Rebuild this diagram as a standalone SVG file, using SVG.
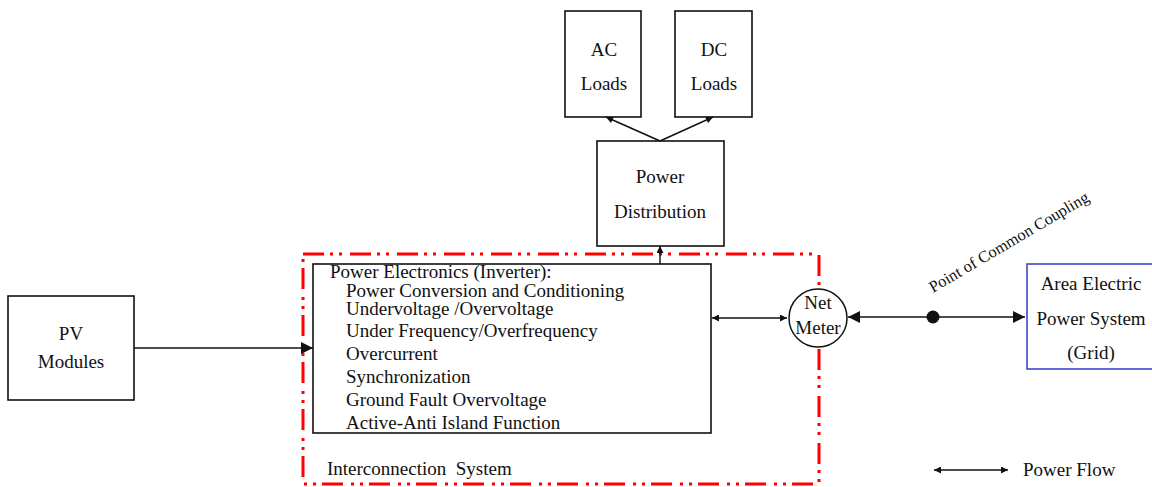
<svg xmlns="http://www.w3.org/2000/svg" width="1152" height="487" viewBox="0 0 1152 487">
  <style>
    text { font-family: "Liberation Serif", "Times New Roman", serif; font-size: 19px; fill: #111; }
    .c { text-anchor: middle; }
    .pcc { font-size: 16.4px; }
    .box { fill: #fff; stroke: #111; stroke-width: 1.6; }
    .ln { fill: none; stroke: #111; stroke-width: 1.4; }
    .boundary { fill: none; stroke: #f00; stroke-width: 3; stroke-dasharray: 21 6 3 6 3 8; }
  </style>
  <defs>
    <marker id="ah" viewBox="0 0 10 10" refX="10" refY="5" markerWidth="9" markerHeight="7" markerUnits="userSpaceOnUse" orient="auto-start-reverse">
      <path d="M0,0 L10,5 L0,10 z" fill="#111"/>
    </marker>
    <marker id="ahBig" viewBox="0 0 10 10" refX="10" refY="5" markerWidth="13" markerHeight="12" markerUnits="userSpaceOnUse" orient="auto-start-reverse">
      <path d="M0,0 L10,5 L0,10 z" fill="#111"/>
    </marker>
  </defs>

  <!-- interconnection boundary -->
  <rect id="interconnection" class="boundary" x="303" y="254" width="516" height="230"/>
  <text x="327" y="475" style="white-space: pre">Interconnection  System</text>

  <g id="pv-modules">
    <rect class="box" x="8" y="296" width="126" height="104"/>
    <text class="c" x="71" y="340">PV</text>
    <text class="c" x="71" y="368">Modules</text>
  </g>

  <g id="inverter">
    <rect class="box" x="313" y="264" width="398" height="169" stroke="#333"/>
    <text x="330" y="278">Power Electronics (Inverter):</text>
    <text x="346" y="297">Power Conversion and Conditioning</text>
    <text x="346" y="315">Undervoltage /Overvoltage</text>
    <text x="346" y="337">Under Frequency/Overfrequency</text>
    <text x="346" y="360">Overcurrent</text>
    <text x="346" y="383">Synchronization</text>
    <text x="346" y="406">Ground Fault Overvoltage</text>
    <text x="346" y="429">Active-Anti Island Function</text>
  </g>

  <g id="power-distribution">
    <rect class="box" x="597" y="141" width="127" height="105"/>
    <text class="c" x="660" y="183">Power</text>
    <text class="c" x="660" y="218">Distribution</text>
  </g>

  <g id="ac-loads">
    <rect class="box" x="565" y="11" width="76" height="106"/>
    <text class="c" x="604" y="56">AC</text>
    <text class="c" x="604" y="90">Loads</text>
  </g>

  <g id="dc-loads">
    <rect class="box" x="675" y="11" width="77" height="106"/>
    <text class="c" x="714" y="56">DC</text>
    <text class="c" x="714" y="90">Loads</text>
  </g>

  <g id="net-meter">
    <circle cx="818" cy="318" r="29" fill="#fff" stroke="#111" stroke-width="1.5"/>
    <text class="c" x="818" y="309">Net</text>
    <text class="c" x="818" y="334">Meter</text>
  </g>

  <g id="grid">
    <rect x="1027" y="264" width="130" height="105" fill="#fff" stroke="#4444cc" stroke-width="1.6"/>
    <text class="c" x="1091" y="290">Area Electric</text>
    <text class="c" x="1091" y="325">Power System</text>
    <text class="c" x="1091" y="359">(Grid)</text>
  </g>

  <g id="connectors">
    <line class="ln" x1="134" y1="348" x2="313" y2="348" marker-end="url(#ahBig)"/>
    <line class="ln" x1="660" y1="264" x2="660" y2="246" marker-end="url(#ah)"/>
    <line class="ln" x1="660" y1="141" x2="606" y2="117" marker-end="url(#ah)"/>
    <line class="ln" x1="660" y1="141" x2="713" y2="117" marker-end="url(#ah)"/>
    <line class="ln" x1="712" y1="318" x2="787" y2="318" marker-start="url(#ah)" marker-end="url(#ah)"/>
    <line class="ln" x1="848" y1="317" x2="1025" y2="317" marker-start="url(#ahBig)" marker-end="url(#ahBig)"/>
    <circle cx="933" cy="317" r="6.5" fill="#111"/>
  </g>

  <text class="pcc" x="0" y="0" transform="translate(933 293) rotate(-30.5)">Point of Common Coupling</text>

  <g id="legend">
    <line class="ln" x1="934" y1="470" x2="1008" y2="470" marker-start="url(#ah)" marker-end="url(#ah)"/>
    <text x="1023" y="476">Power Flow</text>
  </g>
</svg>
